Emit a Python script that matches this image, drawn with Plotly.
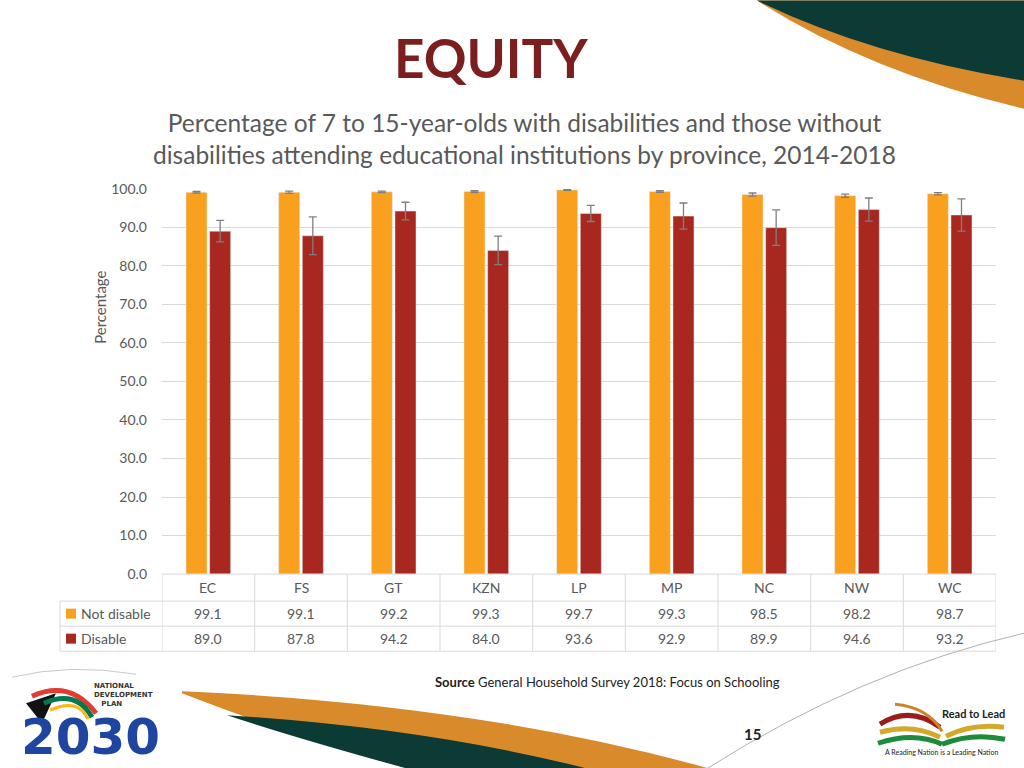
import plotly.graph_objects as go

# ---------------- data ----------------
provinces = ["EC", "FS", "GT", "KZN", "LP", "MP", "NC", "NW", "WC"]
not_disable = [99.1, 99.1, 99.2, 99.3, 99.7, 99.3, 98.5, 98.2, 98.7]
disable = [89.0, 87.8, 94.2, 84.0, 93.6, 92.9, 89.9, 94.6, 93.2]
not_disable_err = [0.2, 0.3, 0.2, 0.2, 0.1, 0.2, 0.4, 0.4, 0.3]
disable_err = [2.8, 4.9, 2.3, 3.7, 2.1, 3.4, 4.6, 3.0, 4.2]
series_names = ["Not disable", "Disable"]
y_ticks = [0, 10, 20, 30, 40, 50, 60, 70, 80, 90, 100]

title_text = "EQUITY"
subtitle_text = ("Percentage of 7 to 15-year-olds with disabilities and those without<br>"
                 "disabilities attending educational institutions by province, 2014-2018")
source_text = "<b>Source</b> General Household Survey 2018: Focus on Schooling"
page_no = "15"

# ---------------- style ----------------
W, H = 1024, 768
ORANGE = "#F9A01E"
RED = "#A8281F"
GRID = "#D9D9D9"
TXT = "#595959"
FONT = "Lato, Carlito, Calibri, sans-serif"
DEC_ORANGE = "#D98A2B"
DEC_GREEN = "#0C3A34"
Y_OFF, Y_SCALE = 8.4, 0.977   # page-to-screenshot vertical correction


def px(x):
    return x / W


def py(y):
    return 1 - ((y - Y_OFF) / Y_SCALE) / H


def path(cmds):
    out = []
    for c in cmds:
        if isinstance(c, str):
            out.append(c)
        else:
            out.append(f"{px(c[0]):.5f},{py(c[1]):.5f}")
    return " ".join(out)


def note(x, y, text, size, color=TXT, family=FONT, xanchor="center", xref="paper",
         yanchor="middle", **kw):
    d = dict(x=x if xref != "paper" else px(x), xref=xref, y=py(y), yref="paper", text=text,
             showarrow=False, xanchor=xanchor, yanchor=yanchor,
             font=dict(size=size, color=color, family=family))
    d.update(kw)
    return d


fig = go.Figure()
fig.add_trace(go.Bar(
    x=provinces, y=not_disable, name=series_names[0], marker_color=ORANGE,
    error_y=dict(type="data", array=not_disable_err, visible=True,
                 color="#7F7F7F", thickness=1.3, width=4),
))
fig.add_trace(go.Bar(
    x=provinces, y=disable, name=series_names[1], marker_color=RED,
    error_y=dict(type="data", array=disable_err, visible=True,
                 color="#7F7F7F", thickness=1.3, width=4),
))

x0p, x1p = 162, 996
top_p, bot_p = 188, 573

fig.update_layout(
    width=W, height=H,
    margin=dict(l=0, r=0, t=0, b=0),
    paper_bgcolor="white", plot_bgcolor="rgba(0,0,0,0)",
    showlegend=False,
    barmode="group", bargap=0.49, bargroupgap=0.11,
    font=dict(family=FONT, color=TXT, size=14),
    xaxis=dict(domain=[px(x0p), px(x1p)], range=[-0.5, len(provinces) - 0.5],
               showticklabels=False, showgrid=False, zeroline=False, showline=False),
    yaxis=dict(domain=[py(bot_p), py(top_p)], range=[0, 100],
               tickvals=y_ticks, tickformat=".1f", showgrid=True, gridcolor=GRID,
               gridwidth=1, zeroline=False, showline=False, ticks="",
               ticklabelstandoff=14, tickfont=dict(size=14, color=TXT)),
)

shapes = []
ann = []

# ---- data table ----
row_hdr, row1, row2, row_end = 573, 600, 625, 650
tbl_left = 60
line = dict(color=GRID, width=1)
shapes.append(dict(type="line", xref="paper", yref="paper", x0=px(x0p), x1=px(x1p),
                   y0=py(row_hdr), y1=py(row_hdr), line=line))
for yy in (row1, row2, row_end):
    shapes.append(dict(type="line", xref="paper", yref="paper", x0=px(tbl_left), x1=px(x1p),
                       y0=py(yy), y1=py(yy), line=line))
for i in range(len(provinces) + 1):
    shapes.append(dict(type="line", xref="x", yref="paper", x0=i - 0.5, x1=i - 0.5,
                       y0=py(row_hdr), y1=py(row_end), line=line))
shapes.append(dict(type="line", xref="paper", yref="paper", x0=px(tbl_left), x1=px(tbl_left),
                   y0=py(row1), y1=py(row_end), line=line))

for i, p in enumerate(provinces):
    ann.append(note(i, (row_hdr + row1) / 2, p, 14, xref="x"))
    ann.append(note(i, (row1 + row2) / 2, f"{not_disable[i]:.1f}", 14, xref="x"))
    ann.append(note(i, (row2 + row_end) / 2, f"{disable[i]:.1f}", 14, xref="x"))

for name, col, (ya, yb) in ((series_names[0], ORANGE, (row1, row2)),
                            (series_names[1], RED, (row2, row_end))):
    yc = (ya + yb) / 2
    shapes.append(dict(type="rect", xref="paper", yref="paper", x0=px(66), x1=px(76),
                       y0=py(yc + 5), y1=py(yc - 5), fillcolor=col, line=dict(width=0)))
    ann.append(note(79, yc, name, 14, xanchor="left"))

# ---- titles ----
ann.append(note(491, 57, "<b>" + title_text + "</b>", 53, color="#7B1E1E"))
ann.append(note(524, 138, subtitle_text, 24.5))
ann.append(note(100, 307, "Percentage", 15, textangle=-90))
ann.append(note(607, 681, source_text, 13, color="#222222"))
ann.append(note(752, 733, "<b>" + page_no + "</b>", 15, color="#222222"))

# ---- decorations ----
def fill_path(cmds, color):
    return dict(type="path", xref="paper", yref="paper", layer="above",
                path=path(cmds), fillcolor=color, line=dict(width=0))


def stroke_path(cmds, color, width):
    return dict(type="path", xref="paper", yref="paper", layer="above",
                path=path(cmds), line=dict(color=color, width=width))


# top right
shapes.append(fill_path(["M", (757, 0), "Q", (870, 72), (1024, 108), "L", (1024, 0), "Z"], DEC_ORANGE))
shapes.append(fill_path(["M", (757, 0), "Q", (870, 55), (1024, 80), "L", (1024, 0), "Z"], DEC_GREEN))
# bottom swoosh
shapes.append(fill_path(["M", (182, 690), "Q", (480, 703), (712, 768), "L", (410, 768),
                         "Q", (300, 738), (182, 692), "Z"], DEC_ORANGE))
shapes.append(fill_path(["M", (227, 714), "Q", (430, 727), (590, 768), "L", (410, 768),
                         "Q", (300, 738), (227, 714), "Z"], DEC_GREEN))
# thin grey curves
shapes.append(stroke_path(["M", (706, 768), "Q", (860, 670), (1024, 632)], "#B0B0B0", 1))
shapes.append(stroke_path(["M", (12, 676), "Q", (70, 662), (136, 673)], "#C8C8C8", 1))

# NDP logo
shapes.append(fill_path(["M", (26, 702), "L", (56, 692), "L", (42, 722), "Z"], "#111111"))
for pts, col, w in (
    ([(32, 695), (70, 678), (96, 712)], "#E03C31", 5),
    ([(44, 702), (76, 688), (92, 716)], "#007A4D", 5),
    ([(50, 709), (78, 696), (88, 718)], "#FFB612", 3),
):
    shapes.append(stroke_path(["M", pts[0], "Q", pts[1], pts[2]], col, w))
ann.append(note(92, 709, "<b>NATIONAL<br>DEVELOPMENT<br>&nbsp;&nbsp;&nbsp;PLAN</b>", 7,
                color="#333333", family="DejaVu Sans, sans-serif", xanchor="left",
                align="left", yanchor="bottom"))
ann.append(note(90, 767, "<b>2030</b>", 50, color="#1E46A0", family="DejaVu Sans, sans-serif",
                yanchor="bottom"))

# Read to Lead logo
for pts, col, w in (
    ([(880, 723), (910, 704), (940, 726)], "#9E1B1B", 5),
    ([(895, 703), (928, 706), (942, 730)], "#D0822A", 3),
    ([(880, 731), (912, 722), (940, 736)], "#D4A82A", 5),
    ([(946, 735), (972, 722), (1004, 726)], "#D4A82A", 5),
    ([(878, 742), (914, 730), (942, 743)], "#1E8B3C", 5),
    ([(942, 743), (972, 731), (1005, 738)], "#1E8B3C", 5),
):
    shapes.append(stroke_path(["M", pts[0], "Q", pts[1], pts[2]], col, w))
ann.append(note(973, 712, "<b>Read to Lead</b>", 11, color="#222222"))
ann.append(note(941, 751, "A Reading Nation is a Leading Nation", 7, color="#222222"))

fig.update_layout(shapes=shapes, annotations=ann)
fig.write_html("out.html", config={"displayModeBar": False},
               post_script="document.body.style.margin='0';")
